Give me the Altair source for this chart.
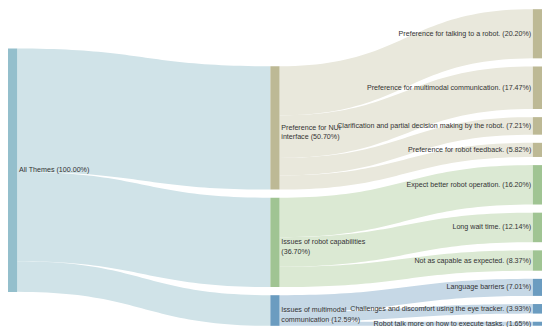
import numpy as np
import pandas as pd
import altair as alt

# ---------------- data ----------------
root_label = "All Themes (100.00%)"
root_value = 100.00

mid_names = ["Preference for NUI interface", "Issues of robot capabilities",
             "Issues of multimodal communication"]
mid_values = [50.70, 36.70, 12.59]
mid_texts = ["Preference for NUI\ninterface (50.70%)",
             "Issues of robot capabilities\n(36.70%)",
             "Issues of multimodal\ncommunication (12.59%)"]

leaf_texts = [
    "Preference for talking to a robot. (20.20%)",
    "Preference for multimodal communication. (17.47%)",
    "Clarification and partial decision making by the robot. (7.21%)",
    "Preference for robot feedback. (5.82%)",
    "Expect better robot operation. (16.20%)",
    "Long wait time. (12.14%)",
    "Not as capable as expected. (8.37%)",
    "Language barriers (7.01%)",
    "Challenges and discomfort using the eye tracker. (3.93%)",
    "Robot talk more on how to execute tasks. (1.65%)",
]
leaf_values = [20.20, 17.47, 7.21, 5.82, 16.20, 12.14, 8.37, 7.01, 3.93, 1.65]
leaf_parent = [0, 0, 0, 0, 1, 1, 1, 2, 2, 2]

# ---------------- style / layout ----------------
root_node_color = "#94bfcc"
root_link_color = "#d0e3e8"
mid_node_colors = ["#bdb995", "#a0c493", "#6b9cc0"]
mid_link_colors = ["#e9e8dc", "#dbe9d3", "#c6d8e6"]

X_DOMAIN = 542.0
Y_DOMAIN = 322.0
NODE_W = 9.3
COL_X = [0.0, 266.3, 532.7]
K = 2.475          # layout units per percent
GAP = 8.27
LEFT_TOP = 40.0
MID_TOP = 58.0
RIGHT_TOP = 0.0

# ---------------- layout computation ----------------
nodes = []
root_y0 = LEFT_TOP
root_y1 = root_y0 + root_value * K
nodes.append(dict(x=COL_X[0], x2=COL_X[0] + NODE_W, y=root_y0, y2=root_y1, color=root_node_color))

mid_pos = []
cur = MID_TOP
for i, v in enumerate(mid_values):
    mid_pos.append((cur, cur + v * K))
    nodes.append(dict(x=COL_X[1], x2=COL_X[1] + NODE_W, y=cur, y2=cur + v * K, color=mid_node_colors[i]))
    cur += v * K + GAP

leaf_pos = []
cur = RIGHT_TOP
for j, v in enumerate(leaf_values):
    leaf_pos.append((cur, cur + v * K))
    nodes.append(dict(x=COL_X[2], x2=COL_X[2] + NODE_W, y=cur, y2=cur + v * K,
                      color=mid_node_colors[leaf_parent[j]]))
    cur += v * K + GAP
nodes_df = pd.DataFrame(nodes)

t = np.linspace(0, 1, 48)
fx = 1.5 * t * (1 - t) + t ** 3
fy = 3 * t ** 2 - 2 * t ** 3

link_rows = []
def add_link(lid, x0, x1, s0, s1, d0, d1, color):
    xs = x0 + (x1 - x0) * fx
    top = s0 + (d0 - s0) * fy
    bot = s1 + (d1 - s1) * fy
    for k in range(len(t)):
        link_rows.append(dict(link=lid, lx=float(xs[k]), ly=float(top[k]), ly2=float(bot[k]), lcolor=color))

cum = root_y0
for i, v in enumerate(mid_values):
    h = v * K
    add_link(f"r{i}", COL_X[0] + NODE_W, COL_X[1], cum, cum + h,
             mid_pos[i][0], mid_pos[i][1], root_link_color)
    cum += h

mid_cum = [p[0] for p in mid_pos]
for j, v in enumerate(leaf_values):
    p = leaf_parent[j]
    h = v * K
    add_link(f"l{j}", COL_X[1] + NODE_W, COL_X[2], mid_cum[p], mid_cum[p] + h,
             leaf_pos[j][0], leaf_pos[j][1], mid_link_colors[p])
    mid_cum[p] += h
links_df = pd.DataFrame(link_rows)

left_labels = pd.DataFrame(
    [dict(x=COL_X[0] + NODE_W, y=(root_y0 + root_y1) / 2, text=root_label)] +
    [dict(x=COL_X[1] + NODE_W, y=(a + b) / 2, text=mid_texts[i]) for i, (a, b) in enumerate(mid_pos)]
)
right_labels = pd.DataFrame(
    [dict(x=COL_X[2], y=(a + b) / 2, text=leaf_texts[j]) for j, (a, b) in enumerate(leaf_pos)]
)

# ---------------- chart ----------------
xs = alt.Scale(domain=[0, X_DOMAIN], nice=False, zero=False)
ys = alt.Scale(domain=[0, Y_DOMAIN], nice=False, zero=False, reverse=True)

links = alt.Chart(links_df).mark_area(interpolate="linear", orient="vertical").encode(
    x=alt.X("lx:Q", scale=xs, axis=None),
    y=alt.Y("ly:Q", scale=ys, axis=None, stack=None),
    y2="ly2:Q",
    detail="link:N",
    fill=alt.Fill("lcolor:N", scale=None),
)

node_marks = alt.Chart(nodes_df).mark_rect().encode(
    x=alt.X("x:Q", scale=xs, axis=None),
    x2="x2:Q",
    y=alt.Y("y:Q", scale=ys, axis=None),
    y2="y2:Q",
    color=alt.Color("color:N", scale=None),
)

FONT = "Liberation Sans"
FS = 7.2
TXT = "#333333"
lab_left = alt.Chart(left_labels).mark_text(
    align="left", baseline="middle", dx=1.8, font=FONT, fontSize=FS,
    color=TXT, lineBreak="\n", lineHeight=9.4,
).encode(
    x=alt.X("x:Q", scale=xs, axis=None),
    y=alt.Y("y:Q", scale=ys, axis=None),
    text="text:N",
)
lab_right = alt.Chart(right_labels).mark_text(
    align="right", baseline="middle", dx=-1.6, font=FONT, fontSize=FS,
    color=TXT,
).encode(
    x=alt.X("x:Q", scale=xs, axis=None),
    y=alt.Y("y:Q", scale=ys, axis=None),
    text="text:N",
)

chart = alt.layer(links, node_marks, lab_left, lab_right).properties(
    width=538, height=319,
    autosize=alt.AutoSizeParams(type="none"),
    padding=0,
    background="white",
).configure_view(stroke=None)

chart.save("out.html", embed_options={"renderer": "svg", "actions": False})
